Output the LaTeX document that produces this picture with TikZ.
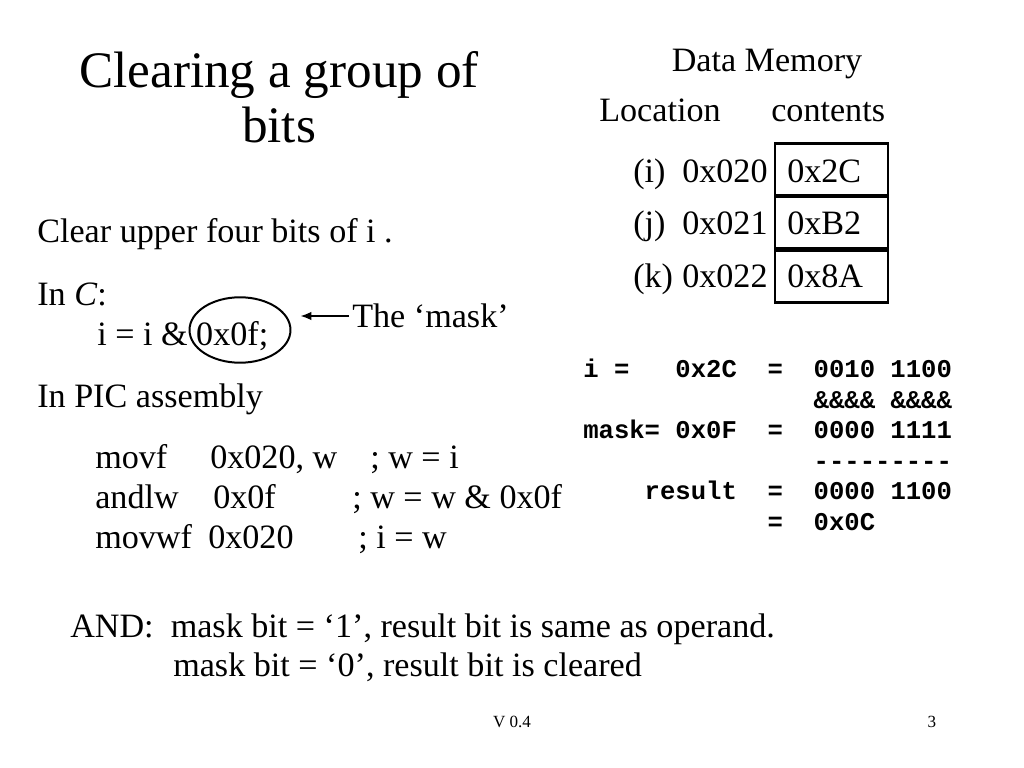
\documentclass[tikz,border=0pt]{standalone}
\usepackage{graphicx}
\usepackage{fontspec}
\setmainfont{Liberation Serif}
\setmonofont{Liberation Mono}
\usetikzlibrary{arrows.meta,shapes.geometric}
\newcommand\bodysize{\fontsize{24}{28.8}\selectfont}
\tikzset{
  txt/.style={anchor=base west, inner sep=0pt, font=\bodysize},
  ttl/.style={anchor=base, inner sep=0pt, font=\bodysize},
  mono/.style={anchor=base west, inner sep=0pt, font=\fontsize{18}{21.6}\selectfont\ttfamily\bfseries},
  small/.style={anchor=base, inner sep=0pt, font=\bodysize},
  cell/.style={draw, line width=2pt, minimum width=79.4pt, minimum height=36pt, inner sep=0pt},
}
\begin{document}
\begin{tikzpicture}[x=0.703125pt, y=-0.703125pt]
\useasboundingbox[fill=white] (0,0) rectangle (1024,768);
% title
\node[ttl] (t1) at (279,88) {\scalebox{1.5}{Clearing a group of}};
\node[ttl] (t2) at (279,143) {\scalebox{1.5}{bits}};
% left column
\node[txt] (clr) at (37,243) {Clear upper four bits of i .};
\node[txt] (inc) at (37,306) {In \textit{C}:};
\node[txt] (expr) at (97,345) {i = i \& 0x0f;};
\node[draw, ellipse, line width=1.4pt, minimum width=71pt, minimum height=46pt, inner sep=0pt] (mask) at (240,330) {};
\node[txt] (thmask) at (352,327) {The ‘mask’};
\coordinate (arrS) at (349,316);
\coordinate (arrE) at (300,316);
\draw[line width=1.5pt, -{Latex[length=8pt,width=6pt]}] (arrS) -- (arrE);
\node[txt] (pic) at (37,407) {In PIC assembly};
\node[txt] (a1) at (95,468) {movf};
\node[txt] (a1b) at (210,468) {0x020, w};
\node[txt] (a1c) at (370,468) {; w = i};
\node[txt] (a2) at (95,508) {andlw};
\node[txt] (a2b) at (213,508) {0x0f};
\node[txt] (a2c) at (352,508) {; w = w \& 0x0f};
\node[txt] (a3) at (95,548) {movwf};
\node[txt] (a3b) at (208,548) {0x020};
\node[txt] (a3c) at (358,548) {; i = w};
\node[txt] (and1) at (70,637) {AND:\ \ mask bit = ‘1’, result bit is same as operand.};
\node[txt] (and2) at (173,676) {mask bit = ‘0’, result bit is cleared};
% data memory
\node[txt, anchor=base] (dm) at (767,72) {Data Memory};
\node[txt] (loc) at (599,122) {Location};
\node[txt] (cont) at (771,122) {contents};
\node[cell] (c1) at (831.5,169.5) {};
\node[cell] (c2) at (831.5,222.5) {};
\node[cell] (c3) at (831.5,276.5) {};
\node[txt] (l1) at (633,183) {(i)};
\node[txt] (l2) at (633,235) {(j)};
\node[txt] (l3) at (633,287) {(k)};
\node[txt] (d1) at (682,183) {0x020};
\node[txt] (d2) at (682,235) {0x021};
\node[txt] (d3) at (682,287) {0x022};
\node[txt] (v1) at (787,183) {0x2C};
\node[txt] (v2) at (787,235) {0xB2};
\node[txt] (v3) at (787,287) {0x8A};
% mono block
\node[mono] (m1) at (583,377) {i~=~~~0x2C~~=~~0010~1100};
\node[mono] (m2) at (583,408) {~~~~~~~~~~~~~~~\&\&\&\&~\&\&\&\&};
\node[mono] (m3) at (583,438) {mask=~0x0F~~=~~0000~1111};
\node[mono] (m4) at (583,469) {~~~~~~~~~~~~~~~---------};
\node[mono] (m5) at (583,499) {~~~~result~~=~~0000~1100};
\node[mono] (m6) at (583,530) {~~~~~~~~~~~~=~~0x0C};
% footer
\node[small] (ver) at (512,727) {\scalebox{0.5}{V 0.4}};
\node[small] (pg) at (932,727) {\scalebox{0.5}{3}};
\end{tikzpicture}
\end{document}
